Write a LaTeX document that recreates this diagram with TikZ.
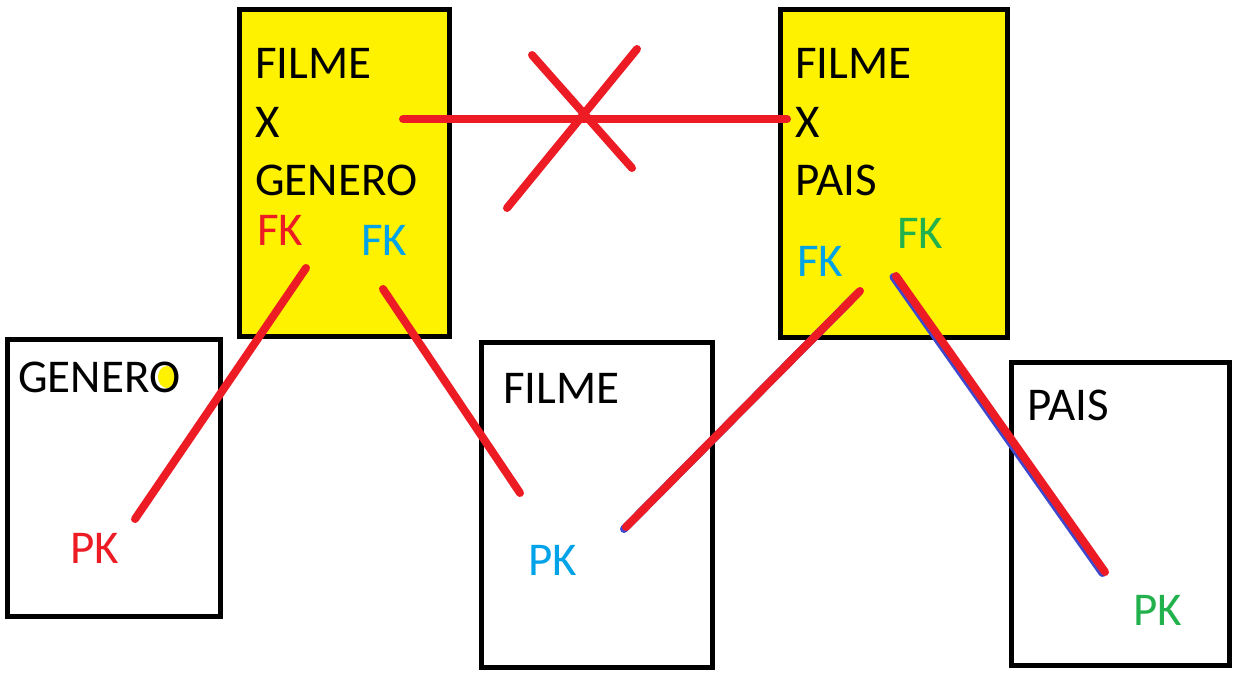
\documentclass[tikz,border=0pt]{standalone}
\usepackage{fontspec}
\setmainfont{Carlito}
\definecolor{pvermelho}{RGB}{237,28,36}
\definecolor{pazul}{RGB}{0,162,232}
\definecolor{pverde}{RGB}{34,177,76}
\definecolor{pamarelo}{RGB}{255,242,0}
\definecolor{pindigo}{RGB}{63,72,204}
\tikzset{
  tabela/.style={draw, line width=5pt, inner sep=0pt, outer sep=0pt, anchor=north west},
  rotulo/.style={inner sep=0pt, anchor=base west, font=\fontsize{47}{56}\selectfont},
  liga/.style={draw=pvermelho, line width=8pt, line cap=round},
  sombra/.style={draw=pindigo, line width=8pt, line cap=round},
}
\begin{document}
\begin{tikzpicture}[x=1pt,y=-1pt]
   \useasboundingbox (0,0) rectangle (1238,675);

   % tabelas
   \node[tabela, fill=pamarelo, minimum width=210pt, minimum height=326.5pt] (fxg) at (239.5,9.5) {};
   \node[tabela, fill=pamarelo, minimum width=226.5pt, minimum height=328pt] (fxp) at (780.5,9.5) {};
   \node[tabela, minimum width=213.5pt, minimum height=277pt] (genero) at (7,339) {};
   \node[tabela, minimum width=231pt, minimum height=325pt] (filme) at (481.5,342.5) {};
   \node[tabela, minimum width=218pt, minimum height=303pt] (pais) at (1011.5,362.5) {};

   % textos
   \node[rotulo] (fxg1) at (255,78) {FILME};
   \node[rotulo] (fxg2) at (255,137) {X};
   \node[rotulo] (fxg3) at (255,195) {GENERO};
   \node[rotulo, text=pvermelho] (fkg) at (257,245) {FK};
   \node[rotulo, text=pazul] (fkf1) at (361,255) {FK};

   \node[rotulo] (fxp1) at (795,78) {FILME};
   \node[rotulo] (fxp2) at (795,137) {X};
   \node[rotulo] (fxp3) at (795,195) {PAIS};
   \node[rotulo, text=pazul] (fkf2) at (797,276) {FK};
   \node[rotulo, text=pverde] (fkp) at (897,248) {FK};

   \fill[pamarelo] (167,377) ellipse [x radius=9, y radius=11];
   \node[rotulo] (tgenero) at (18,392) {GENERO};
   \node[rotulo, text=pvermelho] (pkg) at (70,563) {PK};
   \node[rotulo] (tfilme) at (503,403) {FILME};
   \node[rotulo, text=pazul] (pkf) at (528,575) {PK};
   \node[rotulo] (tpais) at (1027,420) {PAIS};
   \node[rotulo, text=pverde] (pkp) at (1133,625) {PK};

   % pontas das ligacoes
   \coordinate (a1) at (403,119);
   \coordinate (a2) at (787,119);
   \coordinate (x1) at (532,55);
   \coordinate (x2) at (632,168);
   \coordinate (x3) at (637,49);
   \coordinate (x4) at (507,208);
   \coordinate (g1) at (306,268);
   \coordinate (g2) at (135,519);
   \coordinate (f1) at (383,289);
   \coordinate (f2) at (520,493);
   \coordinate (f3) at (860,291);
   \coordinate (f4) at (626,527);
   \coordinate (p1) at (896,276);
   \coordinate (p2) at (1105,572);

   % ligacoes
   \draw[sombra] ([xshift=-2pt,yshift=-2pt]f3) -- ([xshift=-2pt,yshift=-2pt]f4);
   \draw[sombra] ([xshift=-2.5pt,yshift=-1pt]p1) -- ([xshift=-2.5pt,yshift=-1pt]p2);
   \draw[liga] (a1) -- (a2);
   \draw[liga] (x1) -- (x2);
   \draw[liga] (x3) -- (x4);
   \draw[liga] (g1) -- (g2);
   \draw[liga] (f1) -- (f2);
   \draw[liga] (f3) -- (f4);
   \draw[liga] (p1) -- (p2);

\end{tikzpicture}
\end{document}
